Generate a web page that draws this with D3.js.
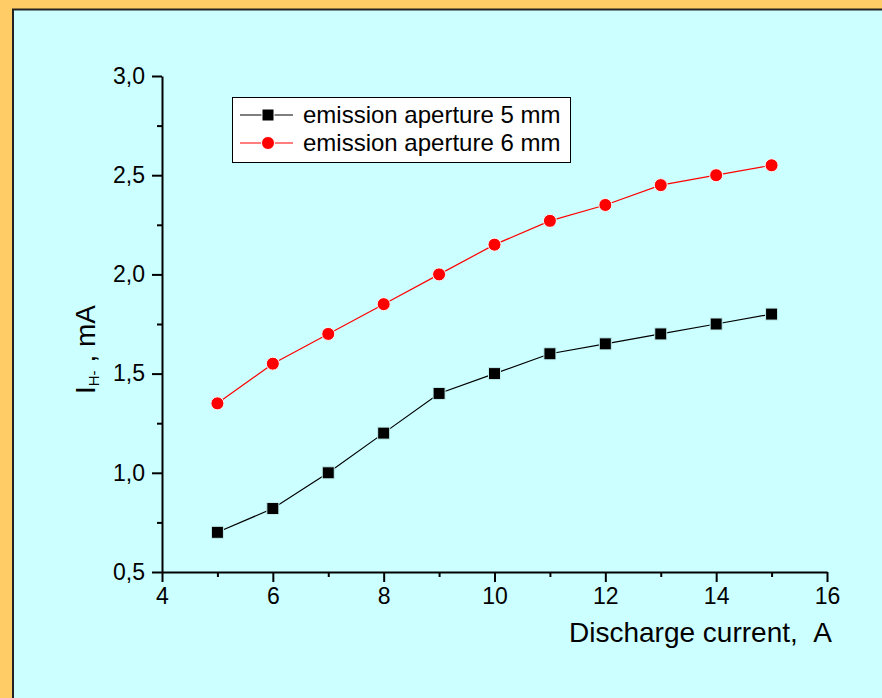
<!DOCTYPE html>
<html>
<head>
<meta charset="utf-8">
<script src="https://cdn.jsdelivr.net/npm/d3@7"></script>
<style>
  html, body { margin: 0; padding: 0; background: #FFCC66; }
  svg { display: block; }
  text { font-family: "Liberation Sans", Arial, sans-serif; fill: #000; }
</style>
</head>
<body>
<script>
// Discharge current (A)
const current = [5, 6, 7, 8, 9, 10, 11, 12, 13, 14, 15];
// H- ion current (mA), emission aperture 5 mm
const aperture5 = [0.70, 0.82, 1.00, 1.20, 1.40, 1.50, 1.60, 1.65, 1.70, 1.75, 1.80];
// H- ion current (mA), emission aperture 6 mm
const aperture6 = [1.35, 1.55, 1.70, 1.85, 2.00, 2.15, 2.27, 2.35, 2.45, 2.50, 2.55];

const xTicks = [4, 6, 8, 10, 12, 14, 16];
const xMinor = [5, 7, 9, 11, 13, 15];
const yTicks = [0.5, 1.0, 1.5, 2.0, 2.5, 3.0];
const yMinor = [0.75, 1.25, 1.75, 2.25, 2.75];

const seriesNames = ["emission aperture 5 mm", "emission aperture 6 mm"];

const W = 882, H = 698;
const bg = "#CCFFFF";

const svg = d3.select("body").append("svg").attr("width", W).attr("height", H);

// outer frame and panel
svg.append("rect").attr("width", W).attr("height", H).attr("fill", "#FFCC66");
svg.append("rect").attr("x", 13).attr("y", 9.5).attr("width", W + 20).attr("height", H + 20)
  .attr("fill", bg).attr("stroke", "#222").attr("stroke-width", 2);

const x = d3.scaleLinear().domain([4, 16]).range([162, 827]);
const y = d3.scaleLinear().domain([0.5, 3.0]).range([572, 76]);

const fmt = d => d3.format(".1f")(d).replace(".", ",");

// x axis
const gx = svg.append("g").attr("transform", `translate(0,${y(0.5)})`);
gx.call(d3.axisBottom(x).tickValues(xTicks).tickSize(10).tickSizeOuter(0).tickPadding(5).tickFormat(d3.format("d")));
gx.append("g").call(d3.axisBottom(x).tickValues(xMinor).tickSize(5).tickFormat(""))
  .select(".domain").remove();

// y axis
const gy = svg.append("g").attr("transform", `translate(${x(4)},0)`);
gy.call(d3.axisLeft(y).tickValues(yTicks).tickSize(10).tickSizeOuter(0).tickPadding(7).tickFormat(fmt));
gy.append("g").call(d3.axisLeft(y).tickValues(yMinor).tickSize(5).tickFormat(""))
  .select(".domain").remove();

svg.selectAll(".domain").attr("stroke", "#000").attr("stroke-width", 2);
svg.selectAll(".tick line").attr("stroke", "#000").attr("stroke-width", 2);
svg.selectAll(".tick text").attr("font-size", 23).attr("font-family", "Liberation Sans, Arial, sans-serif").attr("fill", "#000");
gx.selectAll(".tick text").attr("dy", "0.75em");

// axis titles
svg.append("text").attr("x", 832).attr("y", 642).attr("text-anchor", "end")
  .attr("font-size", 28).text("Discharge current,\u00a0\u00a0A");

const yt = svg.append("text").attr("transform", "translate(95,394) rotate(-90)")
  .attr("font-size", 28);
yt.append("tspan").text("I");
yt.append("tspan").attr("font-size", 15).attr("dy", 4).text("H-");
yt.append("tspan").attr("dy", -4).text("\u00a0, mA");

// data lines and markers
const line = d3.line().x((d, i) => x(current[i])).y(d => y(d));

svg.append("path").datum(aperture5).attr("d", line).attr("fill", "none")
  .attr("stroke", "#000").attr("stroke-width", 1.2);
svg.append("path").datum(aperture6).attr("d", line).attr("fill", "none")
  .attr("stroke", "#FF0000").attr("stroke-width", 1.2);

svg.selectAll(".sq").data(aperture5).join("rect").attr("class", "sq")
  .attr("x", (d, i) => x(current[i]) - 6).attr("y", d => y(d) - 6)
  .attr("width", 12).attr("height", 12).attr("fill", "#000")
  .attr("stroke", "#BFEFEF").attr("stroke-width", 1);

svg.selectAll(".ci").data(aperture6).join("circle").attr("class", "ci")
  .attr("cx", (d, i) => x(current[i])).attr("cy", d => y(d)).attr("r", 6.5)
  .attr("fill", "#FF0000").attr("stroke", "#F4FFFF").attr("stroke-width", 1);

// legend
const lg = svg.append("g");
lg.append("rect").attr("x", 232.5).attr("y", 97.5).attr("width", 338).attr("height", 65)
  .attr("fill", "#fff").attr("stroke", "#000").attr("stroke-width", 1);
const rows = [115, 143];
[0, 1].forEach(k => {
  const cy = rows[k];
  const col = k === 0 ? "#000" : "#FF0000";
  lg.append("line").attr("x1", 240).attr("x2", 293).attr("y1", cy).attr("y2", cy)
    .attr("stroke", col).attr("stroke-width", 1.2);
  if (k === 0) {
    lg.append("rect").attr("x", 262).attr("y", cy - 6).attr("width", 12).attr("height", 12)
      .attr("fill", "#000").attr("stroke", "#fff").attr("stroke-width", 1);
  } else {
    lg.append("circle").attr("cx", 268).attr("cy", cy).attr("r", 6.5)
      .attr("fill", "#FF0000").attr("stroke", "#fff").attr("stroke-width", 1);
  }
  lg.append("text").attr("x", 303).attr("y", cy + 8).attr("font-size", 24).text(seriesNames[k]);
});
</script>
</body>
</html>
